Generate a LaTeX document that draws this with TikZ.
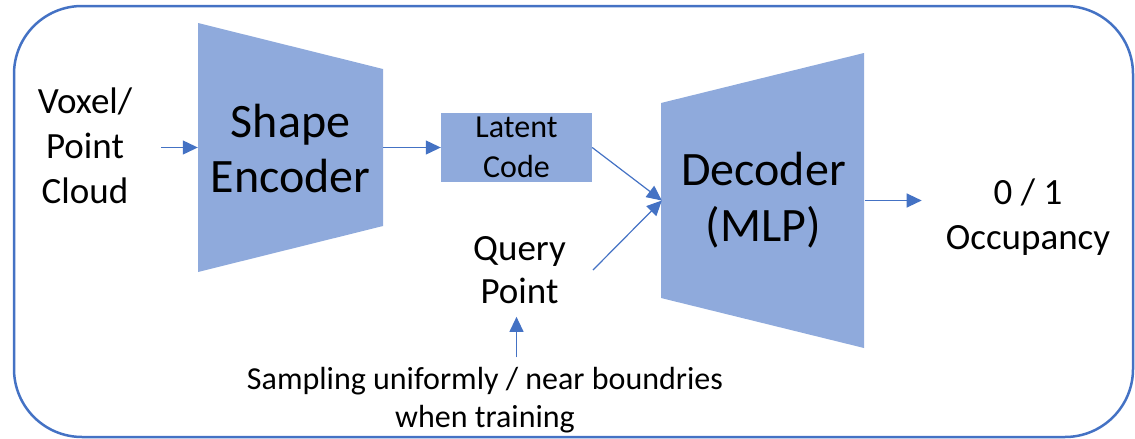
\documentclass[tikz,border=0pt]{standalone}
\usepackage{fontspec}
\setmainfont{Carlito}
\usetikzlibrary{arrows.meta}
\definecolor{oblue}{HTML}{4472C4}
\definecolor{ofill}{HTML}{8FAADC}
\begin{document}
\begin{tikzpicture}[x=1pt,y=-1pt,
  txt/.style={align=center, inner sep=0pt},
  arr/.style={draw=oblue, line width=1.2pt, -{Triangle[length=15pt,width=14pt]}},
  frame/.style={draw=oblue, line width=2.5pt, rounded corners=68pt},
  blockfill/.style={fill=ofill},
]
\useasboundingbox (0,0) rectangle (1135,439);
\draw[frame] (14,6) rectangle (1133,437);

% encoder trapezoid
\fill[blockfill] (198,23) -- (383,69) -- (383,226) -- (198,272) -- cycle;
\node[txt, minimum width=185pt, minimum height=249pt, font=\fontsize{48}{55}\selectfont] (enc) at (290.5,148.5) {Shape\\Encoder};

% latent code
\node[txt, blockfill, minimum width=151pt, minimum height=69pt, font=\fontsize{32}{40}\selectfont] (lat) at (516.5,147.5) {Latent\\Code};

% decoder trapezoid
\fill[blockfill] (661,103) -- (864,53) -- (864,348) -- (661,298) -- cycle;
\node[txt, minimum width=203pt, minimum height=295pt, font=\fontsize{48}{56}\selectfont] (dec) at (763.5,200.5) {Decoder\\(MLP)};

% texts
\node[txt, inner xsep=29pt, font=\fontsize{37}{45}\selectfont] (vox) at (85,146) {Voxel/\\Point\\Cloud};
\node[txt, inner xsep=24pt, font=\fontsize{37}{45}\selectfont] (occ) at (1028,217) {0 / 1\\Occupancy};
\node[txt, inner xsep=27pt, inner ysep=13pt, font=\fontsize{37}{43}\selectfont] (qp) at (519.5,270) {Query\\Point};
\node[txt, inner ysep=9.6pt, font=\fontsize{32}{38}\selectfont] (samp) at (485,400) {Sampling uniformly / near boundries\\when training};

% connectors
\draw[arr] (vox.east |- lat.west) -- (enc.west |- lat.west);
\draw[arr] (enc.east |- lat.west) -- (lat.west);
\draw[arr] (lat.east) -- (dec.west);
\draw[arr] (qp.east) -- (dec.west);
\draw[arr] (dec.east) -- (occ.west |- dec.east);
\draw[arr] (samp.north -| lat.south) -- (qp.south -| lat.south);
\end{tikzpicture}
\end{document}
